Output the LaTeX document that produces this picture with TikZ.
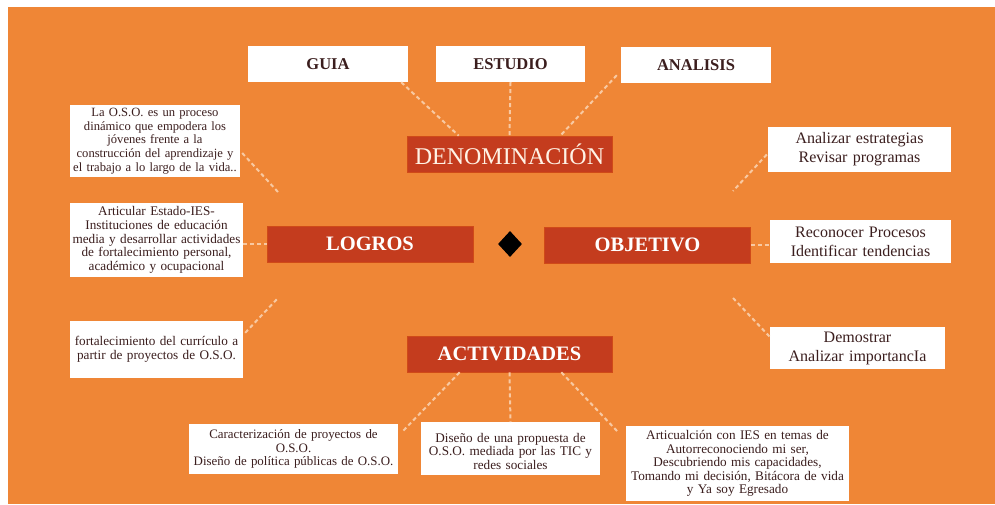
\documentclass[tikz,border=0pt]{standalone}
\usepackage{fontspec}
\setmainfont{Liberation Serif}
\usetikzlibrary{calc,shapes.geometric}
\definecolor{bgorange}{HTML}{EF8636}
\definecolor{darkred}{HTML}{C43C1E}
\definecolor{txtbrown}{HTML}{3B1E1E}
\definecolor{peach}{HTML}{F8C9A2}
\tikzset{
  wbox/.style={fill=white, text=txtbrown, inner sep=0pt, align=center, font=\fontsize{13.2}{13.6}\selectfont},
  rtbox/.style={wbox, font=\fontsize{16}{19}\selectfont},
  hbox/.style={fill=white, text=txtbrown, inner sep=0pt, font=\fontsize{16.5}{18}\selectfont\bfseries},
  rbox/.style={fill=darkred, draw=darkred!80!orange, line width=0.6pt, text=white, inner sep=0pt, minimum width=205pt, minimum height=36pt, font=\fontsize{20.5}{22}\selectfont\bfseries},
  conn/.style={draw=peach, line width=2pt, dash pattern=on 4pt off 3pt},
}
\begin{document}
\begin{tikzpicture}[x=1pt,y=-1pt]
\useasboundingbox (0,0) rectangle (995,504);
\fill[white] (0,0) rectangle (995,504);
\fill[bgorange] (8,7) rectangle (995,504);

% top boxes
\node[hbox, minimum width=160pt, minimum height=36pt] (guia) at (328,64) {GUIA};
\node[hbox, minimum width=149pt, minimum height=36pt] (estudio) at (510.5,64) {ESTUDIO};
\node[hbox, minimum width=150pt, minimum height=36pt] (analisis) at (696,65) {ANALISIS};

% central boxes
\node[rbox, font=\fontsize{24}{26}\selectfont, text=white!90!orange] (denom) at (509.5,154) {DENOMINACIÓN};
\node[rbox, minimum width=206pt] (logros) at (370,244) {LOGROS};
\node[rbox, minimum width=206pt] (objetivo) at (647.5,245) {OBJETIVO};
\node[rbox] (activ) at (509.5,354) {ACTIVIDADES};
\node[diamond, fill=black, inner sep=0pt, minimum width=24pt, minimum height=26pt] (dia) at (510,244) {};

% left boxes
\node[wbox, minimum width=170pt, minimum height=72pt, text width=170pt, font=\fontsize{12.6}{13.6}\selectfont] (t1) at (155,141)
  {La O.S.O. es un proceso\\ dinámico que empodera los\\ jóvenes frente a la\\ construcción del aprendizaje y\\ el trabajo a lo largo de la vida..};
\node[wbox, minimum width=173pt, minimum height=74pt, text width=173pt] (t2) at (156.5,240)
  {Articular Estado-IES-\\ Instituciones de educación\\ media y desarrollar actividades\\ de fortalecimiento personal,\\ académico y ocupacional};
\node[wbox, minimum width=173pt, minimum height=57pt, text width=173pt] (t3) at (156.5,349.5)
  {fortalecimiento del currículo a\\ partir de proyectos de O.S.O.};

% right boxes
\node[rtbox, minimum width=183pt, minimum height=45pt, text width=183pt] (r1) at (859.5,149.5)
  {Analizar estrategias\\ Revisar programas};
\node[rtbox, minimum width=181pt, minimum height=43pt, text width=181pt] (r2) at (860.5,241.5)
  {Reconocer Procesos\\ Identificar tendencias};
\node[rtbox, minimum width=175pt, minimum height=42pt, text width=175pt] (r3) at (857.5,348)
  {Demostrar\\ Analizar importancIa};

% bottom boxes
\node[wbox, minimum width=209pt, minimum height=50pt, text width=209pt, font=\fontsize{12.9}{13.6}\selectfont] (b1) at (293.5,449)
  {Caracterización de proyectos de\\ O.S.O.\\ Diseño de política públicas de O.S.O.};
\node[wbox, minimum width=179pt, minimum height=53pt, text width=179pt, anchor=north] (b2) at (510.5,422)
  {\rule{0pt}{14pt}Diseño de una propuesta de\\ O.S.O. mediada por las TIC y\\ redes sociales\\[8pt]};
\node[wbox, minimum width=223pt, minimum height=75pt, text width=223pt] (b3) at (737.5,463.5)
  {Articualción con IES en temas de\\ Autorreconociendo mi ser,\\ Descubriendo mis capacidades,\\ Tomando mi decisión, Bitácora de vida\\ y Ya soy Egresado};

% free ends
\coordinate (c1) at (278,192);
\coordinate (c3) at (278,298);
\coordinate (cr1) at (733,191);
\coordinate (cr3) at (733,298);

% connectors
\draw[conn] ($(guia.south east)+(-7,0)$) -- ($(denom.north west)+(52,0)$);
\draw[conn] (estudio.south) -- (denom.north);
\draw[conn] ($(analisis.south west)+(-4,-8)$) -- ($(denom.north east)+(-52,0)$);
\draw[conn] ($(t1.east)+(2,12)$) -- (c1);
\draw[conn] (t2.east |- logros.west) -- (logros.west);
\draw[conn] ($(t3.north east)+(2,12)$) -- (c3);
\draw[conn] ($(r1.west)+(-1,5)$) -- (cr1);
\draw[conn] (objetivo.east) -- (r2.west |- objetivo.east);
\draw[conn] (cr3) -- ($(r3.north west)+(0,10)$);
\draw[conn] ($(activ.south west)+(53,0)$) -- ($(b1.north east)+(4,8)$);
\draw[conn] (activ.south) -- (b2.north);
\draw[conn] ($(activ.south east)+(-51,0)$) -- ($(b3.north west)+(-8,6)$);
\end{tikzpicture}
\end{document}
